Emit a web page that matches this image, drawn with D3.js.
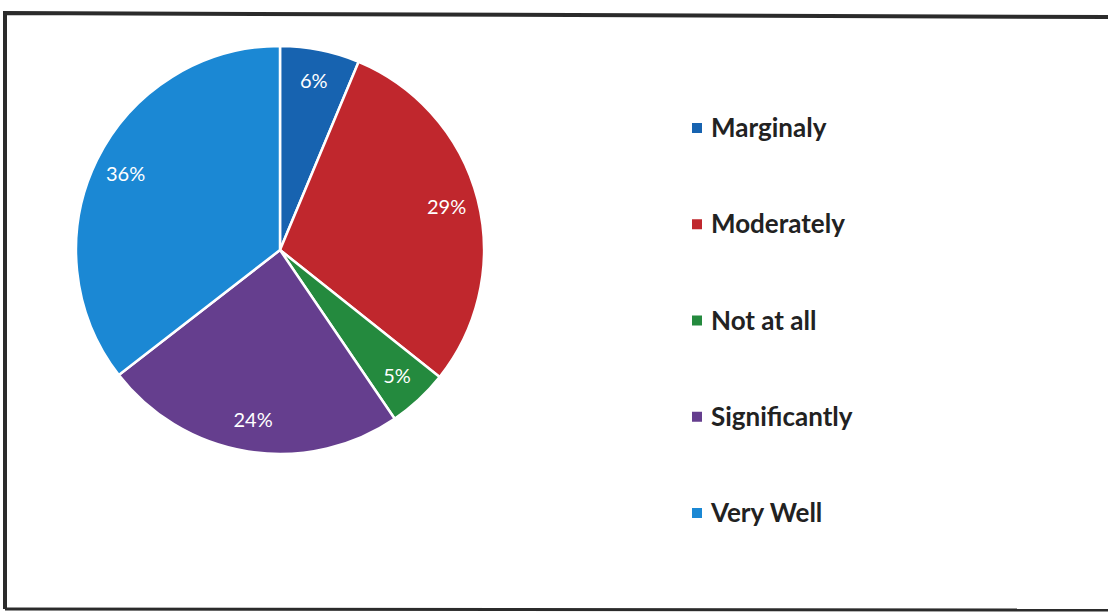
<!DOCTYPE html>
<html><head><meta charset="utf-8">
<script src="https://cdn.jsdelivr.net/npm/d3@7"></script>
<style>html,body{margin:0;padding:0;background:#fff;}svg{display:block;}</style>
</head><body>
<svg id="c" width="1108" height="614"></svg>
<script>
const categories = ["Marginaly", "Moderately", "Not at all", "Significantly", "Very Well"];
const values = [6.3, 29.4, 4.8, 24.0, 35.5];
const colors = ["#1763b0", "#c0272d", "#248a3e", "#653e8e", "#1b88d4"];

const svg = d3.select("#c");

// frame (scanned border)
svg.append("path")
  .attr("d", d3.line()([[5,609],[5,13],[1108,17]]))
  .attr("fill","none").attr("stroke","#2b2b2b").attr("stroke-width",4);
svg.append("path")
  .attr("d", d3.line()([[5,609],[1108,610]]))
  .attr("fill","none").attr("stroke","#2b2b2b").attr("stroke-width",3);

const cx = 280, cy = 250, R = 204;
const data = categories.map((c,i)=>({cat:c, v:values[i], color:colors[i]}));
const pie = d3.pie().value(d=>d.v).sort(null);
const arcs = pie(data);
const arc = d3.arc().innerRadius(0).outerRadius(R);
const labelArc = d3.arc().innerRadius(172).outerRadius(172);

const g = svg.append("g").attr("transform",`translate(${cx},${cy})`);
g.selectAll("path.slice").data(arcs).enter().append("path")
  .attr("class","slice")
  .attr("d", arc)
  .attr("fill", d=>d.data.color)
  .attr("stroke","#fff").attr("stroke-width",2.5).attr("stroke-linejoin","round");

g.selectAll("text.lbl").data(arcs).enter().append("text")
  .attr("class","lbl")
  .attr("transform", d=>`translate(${labelArc.centroid(d)})`)
  .attr("text-anchor","middle").attr("dy","0.35em")
  .attr("fill","#fff")
  .style("font-family","Lato, 'Open Sans', sans-serif")
  .style("font-size","20px")
  .text(d=>Math.round(d.data.v)+"%");

// legend
const ly = d3.scalePoint().domain(categories).range([128,513]);
const lg = svg.append("g");
const items = lg.selectAll("g").data(data).enter().append("g")
  .attr("transform", d=>`translate(692,${ly(d.cat)})`);
items.append("rect").attr("x",0).attr("y",-5).attr("width",10).attr("height",10)
  .attr("fill", d=>d.color);
items.append("text").attr("x",19).attr("dy","0.35em")
  .attr("fill","#222")
  .style("font-family","Lato, 'Open Sans', sans-serif")
  .style("font-weight","bold")
  .style("font-size","26px")
  .text(d=>d.cat);
</script>
</body></html>
